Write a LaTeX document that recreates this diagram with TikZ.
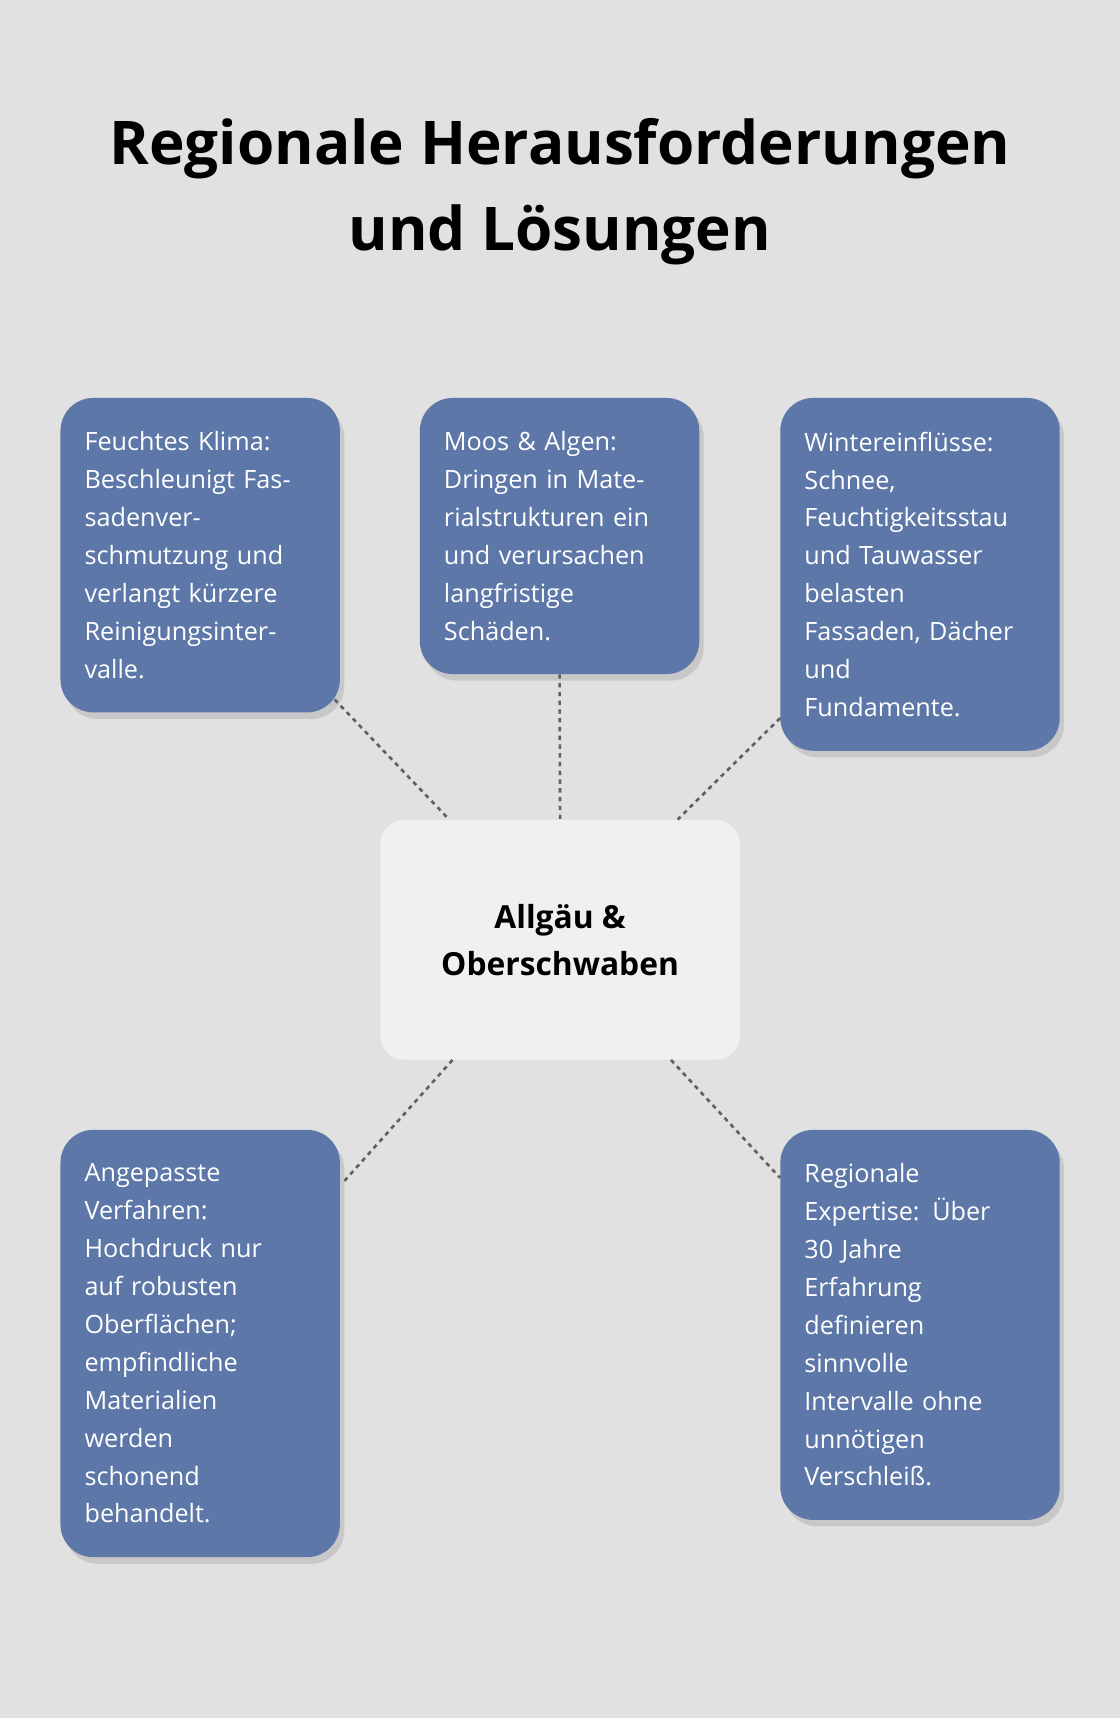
\documentclass[tikz,border=0pt]{standalone}
\usepackage{fontspec}
\setmainfont{Open Sans}
\usetikzlibrary{calc,shadows}
\definecolor{bgc}{HTML}{E0E1E0}
\definecolor{boxc}{HTML}{5D78A8}
\definecolor{hubc}{HTML}{EFF0F2}
\definecolor{linec}{HTML}{606060}
\begin{document}
\begin{tikzpicture}
[x=1pt,y=-1pt,
info/.style={draw=none,fill=boxc,rounded corners=30pt,anchor=north west,text=white,
  align=left,text width=211pt,inner xsep=22pt,inner ysep=0pt,minimum width=255pt,
  font=\fontsize{23}{34.6}\selectfont,
  drop shadow={shadow xshift=4pt,shadow yshift=-6pt,opacity=0.25}},
hub/.style={fill=hubc,rounded corners=22pt,anchor=north west,minimum width=328pt,
  minimum height=219pt,align=center,font=\fontsize{29}{43}\selectfont\bfseries},
link/.style={draw=linec,line width=2.4pt,dash pattern=on 4pt off 4pt},]

%Background
\fill[bgc] (0,0) rectangle (1022,1568);
\useasboundingbox (0,0) rectangle (1022,1568);

%Title
\node (title) at (511,175)[align=center,font=\fontsize{55}{78}\selectfont\bfseries]
  {Regionale Herausforderungen\\und Lösungen};

%Boxes
\node (hub) at (347,748)[hub] {Allgäu \&\\Oberschwaben};
\node (klima) at (55,363)[info,minimum height=287pt]
  {Feuchtes Klima:\\Beschleunigt Fas-\\sadenver-\\schmutzung und\\verlangt kürzere\\Reinigungsinter-\\valle.};
\node (moos) at (383,363)[info,minimum height=252pt]
  {Moos \& Algen:\\Dringen in Mate-\\rialstrukturen ein\\und verursachen\\langfristige\\Schäden.};
\node (winter) at (712,363)[info,minimum height=322pt]
  {Wintereinflüsse:\\Schnee,\\Feuchtigkeitsstau\\und Tauwasser\\belasten\\Fassaden, Dächer\\und\\Fundamente.};
\node (verfahren) at (55,1031)[info,minimum height=390pt]
  {Angepasste\\Verfahren:\\Hochdruck nur\\auf robusten\\Oberflächen;\\empfindliche\\Materialien\\werden\\schonend\\behandelt.};
\node (expertise) at (712,1031)[info,minimum height=356pt]
  {Regionale\\Expertise: Über\\30 Jahre\\Erfahrung\\definieren\\sinnvolle\\Intervalle ohne\\unnötigen\\Verschleiß.};

%Connectors
\draw[link] ($(klima.south east)+(-5,-12)$) -- ($(hub.north west)+(63,0)$);
\draw[link] (moos.south) -- (hub.north);
\draw[link] ($(winter.south west)+(0,-30)$) -- ($(hub.north east)+(-57,0)$);
\draw[link] ($(hub.south west)+(66,0)$) -- ($(verfahren.north east)+(2,49)$);
\draw[link] ($(hub.south east)+(-63,0)$) -- ($(expertise.north west)+(0,44)$);

\end{tikzpicture}
\end{document}
